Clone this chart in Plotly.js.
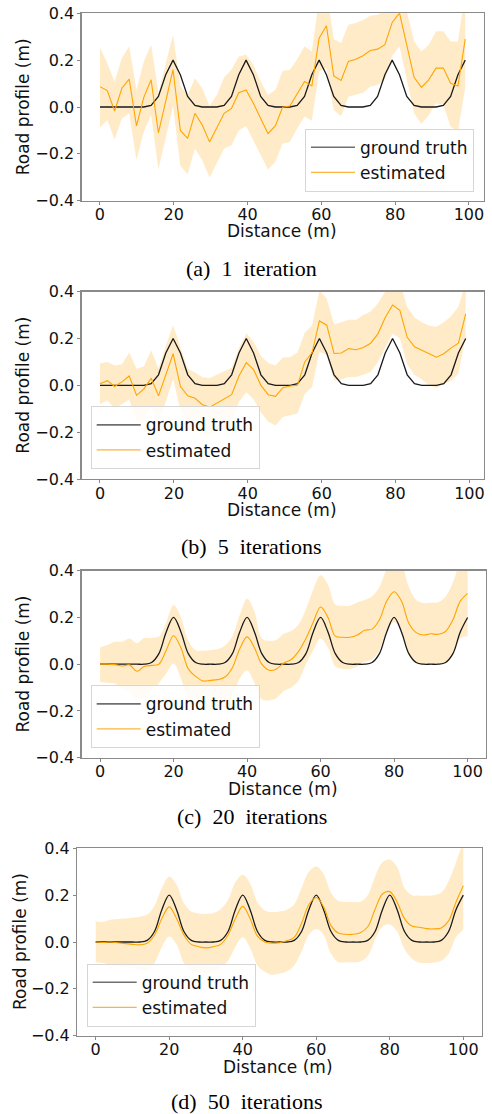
<!DOCTYPE html>
<html>
<head>
<meta charset="utf-8">
<script src="https://cdn.plot.ly/plotly-3.0.1.min.js"></script>
<style>
html,body{margin:0;padding:0;background:#fff;}
#chart{width:492px;height:1114px;}
</style>
</head>
<body>
<div id="chart"></div>
<script>
// ---------- DATA ----------
const captions = ["(a)\u00a0 1\u00a0 iteration", "(b)\u00a0 5\u00a0 iterations", "(c)\u00a0 20\u00a0 iterations", "(d)\u00a0 50\u00a0 iterations"];
const seriesNames = ["ground truth", "estimated"];
const xLabel = "Distance (m)";
const yLabel = "Road profile (m)";
const yTickVals = [-0.4, -0.2, 0, 0.2, 0.4];
const yTickText = ["\u22120.4", "\u22120.2", "0.0", "0.2", "0.4"];
const xTickVals = [0, 20, 40, 60, 80, 100];

// panels (a),(b): 51 samples from 0 to 99 m
const xAB = [0,1.98,3.96,5.94,7.92,9.9,11.88,13.86,15.84,17.82,19.8,21.78,23.76,25.74,27.72,29.7,31.68,33.66,35.64,37.62,39.6,41.58,43.56,45.54,47.52,49.5,51.48,53.46,55.44,57.42,59.4,61.38,63.36,65.34,67.32,69.3,71.28,73.26,75.24,77.22,79.2,81.18,83.16,85.14,87.12,89.1,91.08,93.06,95.04,97.02,99];
// panels (c),(d): 51 samples from 0 to 100 m
const xCD = [0,2,4,6,8,10,12,14,16,18,20,22,24,26,28,30,32,34,36,38,40,42,44,46,48,50,52,54,56,58,60,62,64,66,68,70,72,74,76,78,80,82,84,86,88,90,92,94,96,98,100];

const groundTruth = [0,0,0,0,0,0,0,0.007,0.045,0.138,0.2,0.138,0.045,0.007,0,0,0,0.007,0.045,0.138,0.2,0.138,0.045,0.007,0,0,0,0.007,0.045,0.138,0.2,0.138,0.045,0.007,0,0,0,0.007,0.045,0.138,0.2,0.138,0.045,0.007,0,0,0,0.007,0.045,0.138,0.2];

// (a) 1 iteration
const estA = [0.087,0.07,-0.017,0.08,0.119,-0.081,0.041,0.116,-0.11,0.03,0.16,-0.1,-0.134,-0.027,-0.077,-0.149,-0.09,-0.027,-0.006,0.061,0.073,0.016,-0.049,-0.113,-0.081,-0.001,0.004,0.059,0.109,0.09,0.294,0.347,0.133,0.113,0.194,0.204,0.219,0.241,0.247,0.266,0.361,0.401,0.259,0.127,0.084,0.116,0.166,0.166,0.101,0.09,0.29];
const upA = [0.254,0.187,0.109,0.209,0.259,0.073,0.194,0.266,0.06,0.19,0.309,0.09,0.05,0.123,0.08,0.004,0.051,0.127,0.159,0.216,0.223,0.18,0.109,0.051,0.073,0.154,0.159,0.204,0.259,0.237,0.46,0.5,0.29,0.273,0.351,0.359,0.37,0.39,0.394,0.409,0.5,0.54,0.416,0.28,0.237,0.266,0.323,0.323,0.28,0.28,0.49];
const loA = [-0.087,-0.056,-0.139,-0.049,-0.027,-0.227,-0.106,-0.034,-0.267,-0.13,0.004,-0.251,-0.287,-0.177,-0.227,-0.301,-0.241,-0.177,-0.163,-0.099,-0.081,-0.141,-0.206,-0.267,-0.234,-0.156,-0.149,-0.091,-0.041,-0.059,0.151,0.166,-0.013,-0.039,0.044,0.051,0.061,0.087,0.094,0.116,0.219,0.259,0.109,-0.027,-0.073,-0.034,0.016,0.009,-0.084,-0.106,0.084];

// (b) 5 iterations
const estB = [0.007,0.02,-0.005,0.015,0.04,-0.043,-0.015,0.03,-0.045,0.05,0.135,-0.005,-0.045,-0.055,-0.083,-0.093,-0.075,-0.06,-0.04,0.04,0.097,0.067,0.0,-0.04,-0.047,-0.01,-0.003,0.0,0.1,0.14,0.275,0.257,0.136,0.138,0.157,0.152,0.162,0.18,0.22,0.29,0.343,0.32,0.205,0.165,0.15,0.135,0.12,0.135,0.16,0.18,0.305];
const upB = [0.093,0.1,0.085,0.09,0.14,0.071,0.08,0.15,0.071,0.17,0.257,0.16,0.07,0.055,0.035,0.031,0.045,0.06,0.075,0.16,0.221,0.186,0.125,0.095,0.085,0.119,0.12,0.14,0.225,0.257,0.405,0.37,0.26,0.27,0.28,0.28,0.3,0.315,0.35,0.4,0.46,0.44,0.336,0.29,0.27,0.255,0.25,0.27,0.295,0.336,0.436];
const loB = [-0.081,-0.064,-0.1,-0.08,-0.06,-0.157,-0.15,-0.093,-0.16,-0.07,0.029,-0.107,-0.16,-0.185,-0.207,-0.214,-0.2,-0.185,-0.16,-0.07,-0.029,-0.06,-0.115,-0.155,-0.171,-0.135,-0.128,-0.12,-0.036,-0.007,0.143,0.13,0.021,0.025,0.036,0.036,0.045,0.057,0.1,0.164,0.221,0.2,0.09,0.045,0.025,0.0,-0.01,0.005,0.02,0.05,0.207];

// (c) 20 iterations
const estC = [0.0,0.0,-0.002,-0.008,-0.003,-0.03,-0.01,-0.005,0.0,0.06,0.122,0.07,-0.02,-0.052,-0.072,-0.069,-0.066,-0.055,-0.015,0.066,0.117,0.07,0.0,-0.026,-0.02,0.005,0.02,0.055,0.11,0.18,0.245,0.2,0.12,0.115,0.115,0.125,0.145,0.15,0.19,0.27,0.31,0.27,0.175,0.135,0.125,0.13,0.128,0.14,0.19,0.27,0.303];
const upC = [0.071,0.082,0.096,0.096,0.11,0.09,0.112,0.112,0.118,0.18,0.253,0.2,0.1,0.06,0.058,0.06,0.065,0.08,0.12,0.21,0.28,0.225,0.11,0.1,0.105,0.13,0.142,0.17,0.235,0.32,0.38,0.34,0.255,0.25,0.25,0.265,0.275,0.29,0.33,0.41,0.46,0.43,0.33,0.275,0.262,0.263,0.265,0.29,0.35,0.44,0.48];
const loC = [-0.076,-0.08,-0.083,-0.105,-0.118,-0.151,-0.14,-0.115,-0.08,-0.04,0.003,-0.06,-0.15,-0.183,-0.197,-0.195,-0.19,-0.18,-0.14,-0.06,-0.026,-0.08,-0.15,-0.155,-0.145,-0.115,-0.1,-0.07,0.0,0.06,0.11,0.07,-0.009,-0.02,-0.02,-0.01,0.01,0.02,0.06,0.14,0.181,0.14,0.04,0.005,-0.005,0.003,0.0,0.01,0.04,0.11,0.12];

// (d) 50 iterations
const estD = [0.0,-0.002,0.0,-0.003,-0.007,-0.01,-0.012,-0.005,0.03,0.1,0.15,0.1,0.03,-0.01,-0.02,-0.025,-0.02,-0.01,0.03,0.1,0.152,0.1,0.025,0.0,-0.005,-0.003,0.005,0.02,0.08,0.16,0.19,0.15,0.07,0.038,0.033,0.033,0.04,0.065,0.14,0.205,0.215,0.17,0.1,0.068,0.063,0.057,0.056,0.06,0.09,0.17,0.24];
const upD = [0.089,0.086,0.095,0.098,0.1,0.103,0.108,0.117,0.155,0.23,0.28,0.245,0.165,0.13,0.122,0.12,0.124,0.14,0.18,0.255,0.287,0.25,0.17,0.135,0.128,0.13,0.138,0.16,0.23,0.3,0.322,0.29,0.21,0.175,0.171,0.171,0.172,0.2,0.28,0.34,0.352,0.32,0.23,0.2,0.198,0.197,0.2,0.21,0.26,0.34,0.43];
const loD = [-0.086,-0.09,-0.097,-0.104,-0.108,-0.112,-0.118,-0.125,-0.09,-0.02,0.024,-0.01,-0.09,-0.122,-0.13,-0.133,-0.128,-0.11,-0.08,-0.02,0.02,-0.025,-0.1,-0.127,-0.14,-0.135,-0.125,-0.1,-0.04,0.03,0.055,0.03,-0.05,-0.085,-0.086,-0.086,-0.083,-0.06,0.01,0.065,0.075,0.045,-0.03,-0.07,-0.088,-0.09,-0.087,-0.08,-0.05,0.02,0.053];

// ---------- LAYOUT ----------
const W = 492, H = 1114;
const px2x = p => p / W;
const px2y = p => 1 - p / H;

const panels = [
  {x: xAB, gt: groundTruth, est: estA, lo: loA, up: upA, shape: 'linear',
   l: 81.7, r: 483.5, t: 13.3, b: 200.7, xr: [-4.95, 103.95],
   leg: {x: 474, y: 191.7, xa: 'right'}, capY: 268, capX: 251.7, xtY: 231, xtX: 282, ytX: 23.3},
  {x: xAB, gt: groundTruth, est: estB, lo: loB, up: upB, shape: 'linear',
   l: 81.7, r: 484, t: 291.7, b: 479, xr: [-4.95, 103.95],
   leg: {x: 90.7, y: 469.3, xa: 'left'}, capY: 546.7, capX: 251.7, xtY: 510, xtX: 282, ytX: 23.3},
  {x: xCD, gt: groundTruth, est: estC, lo: loC, up: upC, shape: 'spline',
   l: 81.7, r: 486, t: 570.7, b: 757.7, xr: [-5, 105],
   leg: {x: 90.7, y: 748.3, xa: 'left'}, capY: 816.7, capX: 251.7, xtY: 789, xtX: 283, ytX: 23.3},
  {x: xCD, gt: groundTruth, est: estD, lo: loD, up: upD, shape: 'spline',
   l: 77.3, r: 481.7, t: 848.3, b: 1035.7, xr: [-5, 105],
   leg: {x: 86.7, y: 1026.7, xa: 'left'}, capY: 1101.7, capX: 246.7, xtY: 1066.5, xtX: 278.3, ytX: 20}
];

const FONT = 'DejaVu Sans, Verdana, sans-serif';
const ORANGE = '#FFA500';
const traces = [];
const layout = {
  width: W, height: H,
  margin: {l: 0, r: 0, t: 0, b: 0},
  paper_bgcolor: '#fff', plot_bgcolor: '#fff',
  showlegend: true,
  font: {family: FONT, size: 16, color: '#000'},
  annotations: []
};

panels.forEach((p, k) => {
  const n = k === 0 ? '' : String(k + 1);
  const xa = 'x' + n, ya = 'y' + n, lg = 'legend' + n;
  traces.push({x: p.x, y: p.lo, xaxis: xa, yaxis: ya, mode: 'lines', type: 'scatter',
    line: {width: 0, shape: p.shape, color: 'rgba(0,0,0,0)'}, showlegend: false, hoverinfo: 'skip', legend: lg});
  traces.push({x: p.x, y: p.up, xaxis: xa, yaxis: ya, mode: 'lines', type: 'scatter',
    line: {width: 0, shape: p.shape, color: 'rgba(0,0,0,0)'}, fill: 'tonexty',
    fillcolor: 'rgba(255,165,0,0.22)', showlegend: false, hoverinfo: 'skip', legend: lg});
  traces.push({x: p.x, y: p.gt, xaxis: xa, yaxis: ya, mode: 'lines', type: 'scatter', name: seriesNames[0],
    line: {color: '#1a1a1a', width: 1.3, shape: p.shape}, showlegend: false});
  traces.push({x: p.x, y: p.est, xaxis: xa, yaxis: ya, mode: 'lines', type: 'scatter', name: seriesNames[1],
    line: {color: ORANGE, width: 1.1, shape: p.shape}, showlegend: false});
  // legend entries (as matplotlib draws them: the legend frame softens the samples)
  traces.push({x: [null], y: [null], xaxis: xa, yaxis: ya, mode: 'lines', type: 'scatter', name: seriesNames[0],
    line: {color: '#6f6f6f', width: 1.6}, legend: lg});
  traces.push({x: [null], y: [null], xaxis: xa, yaxis: ya, mode: 'lines', type: 'scatter', name: seriesNames[1],
    line: {color: '#FDB43C', width: 1.2}, legend: lg});

  layout['xaxis' + n] = {
    domain: [px2x(p.l), px2x(p.r)], range: p.xr, anchor: ya,
    tickvals: xTickVals, ticks: 'outside', ticklen: 3, tickcolor: '#888', tickwidth: 1,
    ticklabelstandoff: -4,
    showline: true, mirror: true, linecolor: '#8a8a8a', linewidth: 1.3,
    showgrid: false, zeroline: false, automargin: false,
    tickfont: {family: FONT, size: 16, color: '#111'}
  };
  layout['yaxis' + n] = {
    domain: [px2y(p.b), px2y(p.t)], range: [-0.4, 0.4], anchor: xa,
    tickvals: yTickVals, ticktext: yTickText, ticks: 'outside', ticklen: 3, tickcolor: '#888', tickwidth: 1,
    showline: true, mirror: true, linecolor: '#8a8a8a', linewidth: 1.3,
    showgrid: false, zeroline: false, automargin: false,
    tickfont: {family: FONT, size: 16, color: '#111'}
  };
  layout[lg] = {
    x: px2x(p.leg.x), y: px2y(p.leg.y), xanchor: p.leg.xa, yanchor: 'bottom',
    xref: 'paper', yref: 'paper', traceorder: 'normal',
    bgcolor: 'rgba(255,255,255,0.85)', bordercolor: '#d6d6d6', borderwidth: 1,
    font: {family: FONT, size: 17, color: '#111'}, tracegroupgap: 0, itemwidth: 44
  };
  layout.annotations.push({
    xref: 'paper', yref: 'paper', x: px2x(p.xtX), y: px2y(p.xtY), xanchor: 'center', yanchor: 'middle',
    text: xLabel, showarrow: false, font: {family: FONT, size: 17, color: '#111'}
  });
  layout.annotations.push({
    xref: 'paper', yref: 'paper', x: px2x(p.ytX), y: px2y((p.t + p.b) / 2), xanchor: 'center', yanchor: 'middle',
    text: yLabel, textangle: -90, showarrow: false, font: {family: FONT, size: 17, color: '#111'}
  });
  layout.annotations.push({
    xref: 'paper', yref: 'paper', x: px2x(p.capX), y: px2y(p.capY), xanchor: 'center', yanchor: 'middle',
    text: captions[k], showarrow: false, font: {family: 'Liberation Serif, Times New Roman, serif', size: 22, color: '#000'}
  });
});

Plotly.newPlot('chart', traces, layout, {staticPlot: true, displayModeBar: false});
</script>
</body>
</html>
